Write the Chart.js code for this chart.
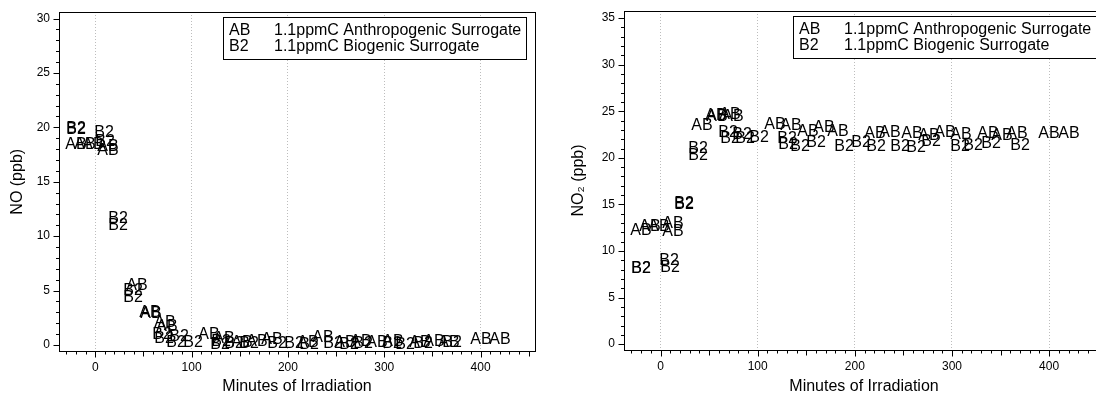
<!DOCTYPE html>
<html>
<head>
<meta charset="utf-8">
<script src="https://cdn.jsdelivr.net/npm/chart.js@4.4.1/dist/chart.umd.min.js"></script>
<style>
  html, body { margin: 0; padding: 0; background: #fff; overflow: hidden; width: 1096px; height: 397px; }
  canvas { position: absolute; top: 0; }
  #noChart { left: 0; }
  #no2Chart { left: 548px; }
</style>
</head>
<body>
<canvas id="noChart" width="548" height="397"></canvas>
<canvas id="no2Chart" width="570" height="397"></canvas>
<script>
// Runs: marker code + description
const seriesCodes = ["AB", "B2"];
const seriesNames = ["1.1ppmC Anthropogenic Surrogate", "1.1ppmC Biogenic Surrogate"];

// Anthropogenic surrogate run (minutes of irradiation, ppb)
const abMinutes = [-20, -11, -2, 13, 13, 43, 57, 58, 72, 75, 118, 134, 152, 168, 183, 221, 236, 259, 276, 293, 309, 337, 352, 367, 400, 420];
const abNO  = [18.6, 18.6, 18.6, 18.0, 18.4, 5.6, 3.1, 3.0, 2.2, 1.8, 1.1, 0.7, 0.4, 0.5, 0.6, 0.4, 0.8, 0.4, 0.5, 0.4, 0.5, 0.4, 0.5, 0.4, 0.6, 0.6];
const abNO2 = [12.4, 12.8, 12.8, 13.1, 12.3, 23.6, 24.7, 24.6, 24.8, 24.6, 23.7, 23.6, 23.0, 23.4, 23.0, 22.8, 22.9, 22.8, 22.6, 22.9, 22.7, 22.8, 22.6, 22.8, 22.8, 22.8];

// Biogenic surrogate run
const b2Minutes = [-20, -20, 9, 10, 24, 24, 39, 39, 69, 71, 84, 87, 101, 130, 131, 144, 160, 189, 206, 222, 247, 263, 278, 308, 322, 340, 370];
const b2NO  = [20.0, 19.9, 19.7, 18.8, 11.8, 11.1, 5.1, 4.5, 1.1, 0.7, 0.4, 0.9, 0.4, 0.2, 0.5, 0.3, 0.3, 0.3, 0.3, 0.2, 0.3, 0.2, 0.3, 0.3, 0.2, 0.3, 0.4];
const b2NO2 = [8.3, 8.3, 9.1, 8.4, 15.3, 15.2, 21.2, 20.4, 22.9, 22.2, 22.7, 22.2, 22.3, 22.2, 21.6, 21.4, 21.8, 21.4, 21.8, 21.4, 21.4, 21.3, 21.9, 21.4, 21.5, 21.7, 21.5];

// axis ranges and labelled ticks
const xRange = [-37.6, 456.5];
const xTicks = [0, 100, 200, 300, 400];
const noRange = [-0.6, 30.6];
const noTicks = [0, 5, 10, 15, 20, 25, 30];
const no2Range = [-0.63, 35.77];
const no2Ticks = [0, 5, 10, 15, 20, 25, 30, 35];

const FONT = "'Liberation Sans', Arial, Helvetica, sans-serif";
const MARK_FONT = "16px " + FONT;
const INK = "#000";

// text used as the point marker
function textMarker(txt) {
  const c = document.createElement("canvas");
  let g = c.getContext("2d");
  g.font = MARK_FONT;
  let w = Math.ceil(g.measureText(txt).width) + 2;
  if (w % 2) w++;
  c.width = w;
  c.height = 24;
  g = c.getContext("2d");
  g.font = MARK_FONT;
  g.fillStyle = INK;
  g.textAlign = "center";
  g.textBaseline = "alphabetic";
  g.fillText(txt, w / 2, 12 + 5.8);
  return c;
}

const markers = seriesCodes.map(textMarker);

function toPoints(xs, ys) {
  return xs.map((x, i) => ({ x, y: ys[i] }));
}

function fixedTicks(values) {
  return s => { s.ticks = values.map(v => ({ value: v })); };
}

// keep the text markers sharp when they land between pixels
const crispPlugin = {
  id: "crisp",
  beforeDatasetsDraw(chart) { chart.ctx.save(); chart.ctx.imageSmoothingEnabled = false; },
  afterDatasetsDraw(chart) { chart.ctx.restore(); }
};

// box around plot, minor ticks, and the legend
const framePlugin = {
  id: "frame",
  afterDraw(chart, args, opts) {
    const { ctx, chartArea: a, scales: { x, y } } = chart;
    const L = Math.floor(a.left) + 0.5, R = Math.floor(a.right) + 0.5;
    const T = Math.floor(a.top) + 0.5, B = Math.floor(a.bottom) + 0.5;
    ctx.save();
    ctx.strokeStyle = "#000";
    ctx.lineWidth = 1;
    ctx.strokeRect(L, T, R - L, B - T);

    ctx.beginPath();
    for (let v = Math.ceil(x.min / 10) * 10; v <= x.max; v += 10) {
      const px = Math.round(x.getPixelForValue(v)) + 0.5;
      const len = v % 100 === 0 ? 6 : v % 50 === 0 ? 5 : 3;
      ctx.moveTo(px, B);
      ctx.lineTo(px, B + len);
    }
    for (let v = Math.ceil(y.min); v <= y.max; v++) {
      const py = Math.round(y.getPixelForValue(v)) + 0.5;
      const len = v % 5 === 0 ? 6 : 3.5;
      ctx.moveTo(L, py);
      ctx.lineTo(L - len, py);
    }
    ctx.stroke();

    // legend box, top right
    ctx.font = MARK_FONT;
    const sets = chart.data.datasets;
    const textW = Math.max(...sets.map(d => ctx.measureText(d.label).width));
    const boxW = Math.round(51 + textW + 5);
    const boxR = Math.floor(a.right) - (opts.inset || 9);
    const boxL = boxR - boxW, boxT = Math.floor(a.top) + 5, boxH = 42;
    ctx.fillStyle = "#fff";
    ctx.fillRect(boxL, boxT, boxW, boxH);
    ctx.strokeRect(boxL + 0.5, boxT + 0.5, boxW, boxH);
    ctx.fillStyle = INK;
    ctx.textAlign = "left";
    ctx.textBaseline = "alphabetic";
    sets.forEach((d, i) => {
      const base = boxT + 17.5 + i * 16;
      ctx.fillText(d.code, boxL + 6, base);
      ctx.fillText(d.label, boxL + 51, base);
    });
    ctx.restore();
  }
};

function buildPanel(p) {
  const datasets = [
    { label: seriesNames[0], code: seriesCodes[0], data: toPoints(abMinutes, p.ab), pointStyle: markers[0] },
    { label: seriesNames[1], code: seriesCodes[1], data: toPoints(b2Minutes, p.b2), pointStyle: markers[1] }
  ].map(d => Object.assign(d, { pointRadius: 10, pointHoverRadius: 10, showLine: false, clip: false }));

  return new Chart(document.getElementById(p.id), {
    type: "scatter",
    data: { datasets },
    options: {
      responsive: false,
      animation: false,
      devicePixelRatio: 1,
      events: [],
      layout: { padding: p.pad },
      plugins: {
        legend: { display: false },
        tooltip: { enabled: false },
        frame: { inset: p.legendInset }
      },
      scales: {
        x: {
          type: "linear",
          min: xRange[0],
          max: xRange[1],
          afterBuildTicks: fixedTicks(xTicks),
          afterFit(s) { s.height = p.axisH; s.paddingLeft = 0; s.paddingRight = 0; },
          ticks: { color: "#000", padding: 3, font: { family: FONT, size: 12 } },
          grid: { color: "#bdbdbd", lineWidth: 1, drawTicks: true, tickLength: 6, tickColor: "rgba(0,0,0,0)" },
          border: { display: false, dash: [1, 2] },
          title: { display: true, text: "Minutes of Irradiation", color: "#000", font: { family: FONT, size: 16 }, padding: { top: 0, bottom: 1 } }
        },
        y: {
          type: "linear",
          min: p.range[0],
          max: p.range[1],
          afterBuildTicks: fixedTicks(p.ticks),
          afterFit(s) { s.width = p.axisW; s.paddingTop = 0; s.paddingBottom = 0; },
          ticks: { color: "#000", padding: 3, font: { family: FONT, size: 12 } },
          grid: { drawOnChartArea: false, drawTicks: true, tickLength: 6, tickColor: "rgba(0,0,0,0)" },
          border: { display: false },
          title: { display: true, text: p.title, color: "#000", font: { family: FONT, size: 16 }, padding: { top: p.titlePad, bottom: 0 } }
        }
      }
    },
    plugins: [crispPlugin, framePlugin]
  });
}

buildPanel({ id: "noChart", title: "NO (ppb)", ab: abNO, b2: b2NO, range: noRange, ticks: noTicks,
  axisW: 59, axisH: 45.5, pad: { left: 0, right: 13, top: 12, bottom: 0 }, titlePad: 8, legendInset: 9 });
buildPanel({ id: "no2Chart", title: "NO\u2082 (ppb)", ab: abNO2, b2: b2NO2, range: no2Range, ticks: no2Ticks,
  axisW: 76, axisH: 47, pad: { left: 0, right: 14, top: 6, bottom: 0 }, titlePad: 21, legendInset: 8 });
</script>
</body>
</html>
